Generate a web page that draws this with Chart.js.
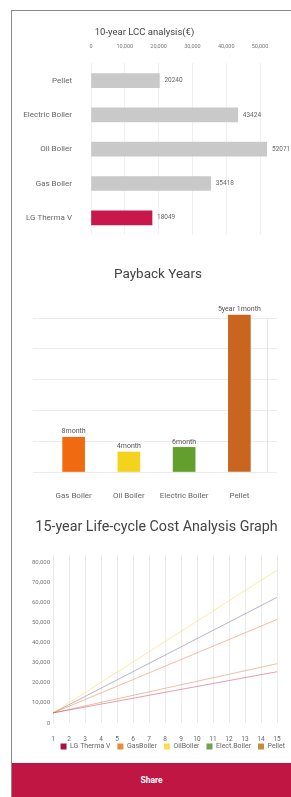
<!DOCTYPE html>
<html><head><meta charset="utf-8">
<script src="https://cdn.jsdelivr.net/npm/chart.js@4.4.1/dist/chart.umd.min.js"></script>
<style>
html,body{margin:0;padding:0;background:#fff;width:291px;height:797px;overflow:hidden;font-family:Roboto,sans-serif}
#card{position:absolute;left:11px;top:10px;width:280px;height:787px;border-left:1px solid #8a8a8a;border-top:1px solid #8a8a8a;box-sizing:border-box}
canvas{position:absolute;left:12px}
#share{position:absolute;left:12px;top:763px;width:279px;height:34px;background:#bf1643;color:#fff;font:bold 8.5px Roboto,sans-serif;display:flex;align-items:center;justify-content:center}
</style></head>
<body>
<div id="card"></div>
<canvas id="c1" width="279" height="236" style="top:12px"></canvas>
<canvas id="c2" width="279" height="262" style="top:252px"></canvas>
<canvas id="c3" width="279" height="260" style="top:514px"></canvas>
<div id="share">Share</div>
<script>
// ---- data ----
const lccTitle = '10-year LCC analysis(€)';
const lccCategories = ['Pellet', 'Electric Boiler', 'Oil Boiler', 'Gas Boiler', 'LG Therma V'];
const lccValues = [20240, 43424, 52071, 35418, 18049];
const lccTicks = [0, 10000, 20000, 30000, 40000, 50000];

const paybackTitle = 'Payback Years';
const paybackCategories = ['Gas Boiler', 'Oil Boiler', 'Electric Boiler', 'Pellet'];
const paybackYears = [1.13, 0.65, 0.8, 5.1];
const paybackLabels = ['8month', '4month', '6month', '5year 1month'];

const lifeTitle = '15-year Life-cycle Cost Analysis Graph';
const lifeYears = ['1','2','3','4','5','6','7','8','9','10','11','12','13','14','15'];
const lifeTicks = [0, 10000, 20000, 30000, 40000, 50000, 60000, 70000, 80000];
const lifeSeriesNames = ['LG Therma V', 'GasBoiler', 'OilBoiler', 'Elect.Boiler', 'Pellet'];
const lgTherma = [5000, 6460, 7930, 9390, 10860, 12320, 13790, 15250, 16710, 18180, 19640, 21110, 22570, 24040, 25500];
const gasBoiler = [5000, 8320, 11640, 14960, 18290, 21610, 24930, 28250, 31570, 34890, 38210, 41540, 44860, 48180, 51500];
const oilBoiler = [5000, 10070, 15140, 20210, 25290, 30360, 35430, 40500, 45570, 50640, 55710, 60790, 65860, 70930, 76000];
const electBoiler = [5000, 9110, 13210, 17320, 21430, 25540, 29640, 33750, 37860, 41960, 46070, 50180, 54290, 58390, 62500];
const pellet = [5000, 6750, 8500, 10250, 12000, 13750, 15500, 17250, 19000, 20750, 22500, 24250, 26000, 27750, 29500];

// ---- styles ----
Chart.defaults.font.family = 'Roboto, sans-serif';
Chart.defaults.color = '#777';
Chart.defaults.animation = false;
const fmt = v => Number(v).toLocaleString('en-US');

// shifts the title block horizontally (and optionally the legend)
const boxShift = {
  id: 'boxShift',
  afterLayout(chart, args, opts) {
    const t = chart.titleBlock;
    if (t && opts.titleDx) { t.left += opts.titleDx; t.right += opts.titleDx; }
    const lg = chart.legend;
    if (lg && opts.legendTop !== undefined) {
      const dy = opts.legendTop - lg.top;
      lg.top += dy; lg.bottom += dy;
      lg.left += opts.legendDx; lg.right += opts.legendDx;
    }
  }
};

// chart 1
const lccLabelPlugin = {
  id: 'lccLabels',
  afterDatasetsDraw(chart) {
    const ctx = chart.ctx;
    const meta = chart.getDatasetMeta(0);
    ctx.save();
    ctx.font = '6.5px Roboto, sans-serif';
    ctx.fillStyle = '#666';
    ctx.textBaseline = 'middle';
    ctx.textAlign = 'left';
    meta.data.forEach((el, i) => ctx.fillText(String(lccValues[i]), el.x + 5, el.y));
    ctx.restore();
  }
};
new Chart(document.getElementById('c1'), {
  type: 'bar',
  data: { labels: lccCategories, datasets: [{
    data: lccValues,
    backgroundColor: lccCategories.map((c, i) => i === lccCategories.length - 1 ? '#c8174b' : '#c9c9c9'),
    barThickness: 14
  }]},
  options: {
    responsive: false, devicePixelRatio: 1, indexAxis: 'y',
    layout: { padding: { left: 0, right: 24, top: 0, bottom: 13 } },
    plugins: {
      legend: { display: false }, tooltip: { enabled: false },
      title: { display: true, text: lccTitle, color: '#444', font: { size: 9.5, weight: 'normal' }, padding: { top: 15, bottom: 5 } },
      boxShift: { titleDx: 5 }
    },
    scales: {
      x: { position: 'top', min: 0, max: 52071,
        afterBuildTicks: s => { s.ticks = lccTicks.map(v => ({ value: v })); },
        ticks: { callback: v => fmt(v), font: { size: 5.5 }, padding: 0, maxRotation: 0, autoSkip: false },
        grid: { color: '#f0f0f0', drawTicks: true, tickLength: 13, tickColor: 'rgba(0,0,0,0)' }, border: { display: false },
        afterFit: s => { s.height = 20; } },
      y: { ticks: { font: { size: 8 }, color: '#666', padding: 0 },
        grid: { display: false, drawTicks: true, tickLength: 19 }, border: { display: false },
        afterFit: s => { s.width = 79; } }
    }
  },
  plugins: [lccLabelPlugin, boxShift]
});

// chart 2
const paybackLabelPlugin = {
  id: 'paybackLabels',
  afterDatasetsDraw(chart) {
    const ctx = chart.ctx;
    const meta = chart.getDatasetMeta(0);
    ctx.save();
    ctx.font = '7px Roboto, sans-serif';
    ctx.fillStyle = '#555';
    ctx.textBaseline = 'bottom';
    ctx.textAlign = 'center';
    meta.data.forEach((el, i) => ctx.fillText(paybackLabels[i], el.x, el.y - 2));
    ctx.restore();
  }
};
new Chart(document.getElementById('c2'), {
  type: 'bar',
  data: { labels: paybackCategories, datasets: [{
    data: paybackYears,
    backgroundColor: ['#f26a10', '#f4d31c', '#629f2c', '#c9651f'],
    barThickness: 22, clip: false
  }]},
  options: {
    responsive: false, devicePixelRatio: 1,
    layout: { padding: { left: 21, right: 14, top: 0, bottom: 13 } },
    plugins: {
      legend: { display: false }, tooltip: { enabled: false },
      title: { display: true, text: paybackTitle, color: '#444', font: { size: 13.5, weight: 'normal' }, padding: { top: 15, bottom: 35 } },
      boxShift: { titleDx: 3 }
    },
    scales: {
      x: { ticks: { font: { size: 8 }, color: '#666', padding: 0, maxRotation: 0, autoSkip: false },
        grid: { display: false, drawTicks: true, tickLength: 19 }, border: { display: false },
        afterFit: s => { s.height = 29; } },
      y: { min: 0, max: 5, ticks: { display: false, stepSize: 1 },
        grid: { color: '#ececec', tickLength: 13 }, border: { display: false },
        afterFit: s => { s.width = 13; } },
      y2: { position: 'right', min: 0, max: 5, ticks: { display: false, stepSize: 1 },
        grid: { color: '#ececec', tickLength: 10, drawOnChartArea: false }, border: { display: true, color: '#e6e6e6' },
        afterFit: s => { s.width = 10; } }
    }
  },
  plugins: [paybackLabelPlugin, boxShift]
});

// chart 3
const lineColors = ['rgba(200,40,80,0.45)', 'rgba(240,120,70,0.5)', 'rgba(245,220,90,0.55)', 'rgba(150,150,180,0.7)', 'rgba(215,140,100,0.55)'];
const legendColors = ['#a5123f', '#ec8a3c', '#f3e04c', '#74a24a', '#c98a3c'];
const lifeData = [lgTherma, gasBoiler, oilBoiler, electBoiler, pellet];
new Chart(document.getElementById('c3'), {
  type: 'line',
  data: { labels: lifeYears, datasets: lifeSeriesNames.map((n, i) => ({
    label: n, data: lifeData[i], borderColor: lineColors[i], backgroundColor: legendColors[i],
    borderWidth: 1, pointRadius: 0, tension: 0, fill: false
  }))},
  options: {
    responsive: false, devicePixelRatio: 1,
    layout: { padding: { left: 0, right: 14, top: 0, bottom: 7 } },
    plugins: {
      tooltip: { enabled: false },
      title: { display: true, text: lifeTitle, color: '#444', font: { size: 14.3, weight: 'normal' }, padding: { top: 5, bottom: 19 } },
      legend: { position: 'bottom', align: 'end', labels: {
        boxWidth: 6, boxHeight: 6, padding: 7, font: { size: 7 }, color: '#666',
        generateLabels: chart => Chart.defaults.plugins.legend.labels.generateLabels(chart).map((l, i) => Object.assign(l, { fillStyle: legendColors[i], strokeStyle: legendColors[i], lineWidth: 0 }))
      } },
      boxShift: { titleDx: 12, legendTop: 222, legendDx: 15 }
    },
    scales: {
      x: { offset: false, ticks: { font: { size: 6.5 }, color: '#666', padding: 0, maxRotation: 0, autoSkip: false },
        grid: { color: '#ebebeb', drawTicks: true, tickLength: 12, tickColor: 'rgba(0,0,0,0)' }, border: { display: false },
        afterFit: s => { s.height = 20; } },
      y: { min: 0, max: 83500,
        afterBuildTicks: s => { s.ticks = lifeTicks.map(v => ({ value: v })); },
        ticks: { callback: v => fmt(v), font: { size: 6 }, color: '#777', padding: 3 },
        grid: { display: false, drawTicks: false }, border: { display: false },
        afterFit: s => { s.width = 41; } }
    }
  },
  plugins: [boxShift]
});
</script>
</body></html>
